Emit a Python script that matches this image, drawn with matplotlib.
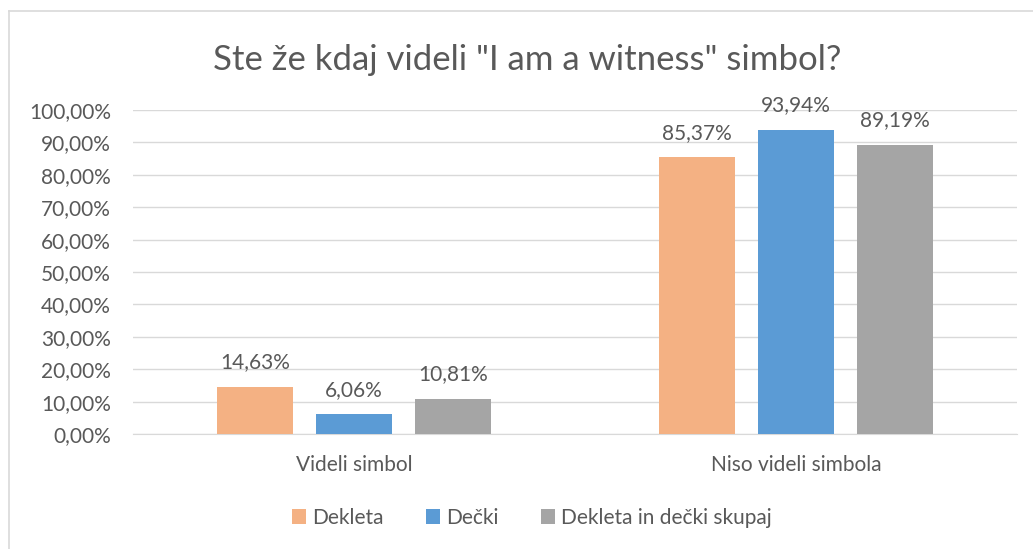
import numpy as np
import matplotlib.pyplot as plt
from matplotlib.lines import Line2D

categories = ['Videli simbol', 'Niso videli simbola']
series_names = ['Dekleta', 'Dečki', 'Dekleta in dečki skupaj']
dekleta = [14.63, 85.37]
decki = [6.06, 93.94]
skupaj = [10.81, 89.19]
colors = ['#F4B183', '#5B9BD5', '#A5A5A5']
yticks = np.arange(0, 101, 10)

plt.rcParams['font.family'] = ['Lato', 'DejaVu Sans']
txt = '#595959'
fs = 15

fig = plt.figure(figsize=(10.33, 5.49), dpi=100)
ax = fig.add_axes([133 / 1033, 115 / 549, 884 / 1033, 324 / 549])

x = np.arange(len(categories))
w = 0.174
off = 0.224
for i, (vals, name) in enumerate(zip([dekleta, decki, skupaj], series_names)):
    bars = ax.bar(x + (i - 1) * off, vals, w, color=colors[i], label=name, zorder=3)
    for b, v in zip(bars, vals):
        ax.text(b.get_x() + b.get_width() / 2, v + 4.5, f'{v:.2f}%'.replace('.', ','),
                ha='center', va='bottom', fontsize=fs, color=txt)

ax.set_xlim(-0.5, 1.5)
ax.set_ylim(0, 100)
ax.set_yticks(yticks)
ax.set_yticklabels([f'{t:.2f}%'.replace('.', ',') for t in yticks], fontsize=fs, color=txt)
ax.set_xticks(x)
ax.set_xticklabels(categories, fontsize=fs, color=txt)
ax.tick_params(length=0)
ax.tick_params(axis='y', pad=16)
ax.tick_params(axis='x', pad=15)
ax.grid(axis='y', color='#D9D9D9', linewidth=1, zorder=0)
for s in ['top', 'right', 'left']:
    ax.spines[s].set_visible(False)
ax.spines['bottom'].set_color('#D9D9D9')

fig.text(527 / 1033, 1 - 60 / 549, 'Ste že kdaj videli "I am a witness" simbol?',
         ha='center', va='center', fontsize=25, color=txt)

fig.legend(loc='center', bbox_to_anchor=(532 / 1033, 1 - 518 / 549), ncol=3, frameon=False,
           fontsize=fs, labelcolor=txt, handlelength=0.7, handleheight=0.7,
           handletextpad=0.3, columnspacing=2.0)

# chart border (left/top visible)
fig.add_artist(Line2D([9 / 1033, 9 / 1033], [0, 1 - 11 / 549], color='#D9D9D9', lw=1.2,
                      transform=fig.transFigure))
fig.add_artist(Line2D([9 / 1033, 1], [1 - 11 / 549, 1 - 11 / 549], color='#D9D9D9', lw=1.2,
                      transform=fig.transFigure))

fig.savefig('out.png', dpi=100)
